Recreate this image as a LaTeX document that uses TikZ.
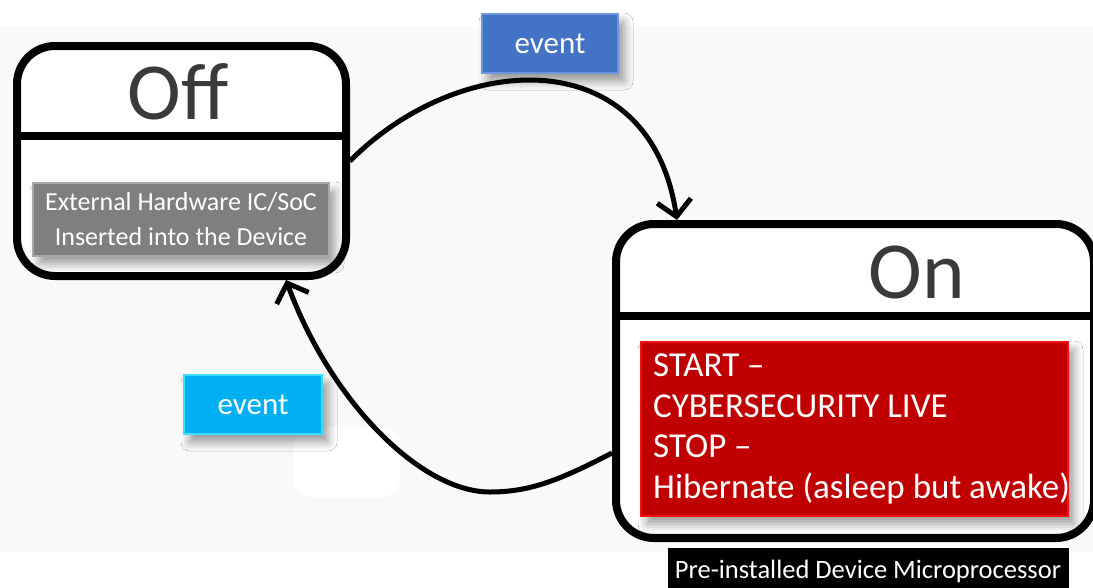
\documentclass[tikz,border=0pt]{standalone}
\usepackage{fontspec}
\setmainfont{Carlito}
\usetikzlibrary{arrows.meta,shadows.blur,calc}

\definecolor{pagegray}{HTML}{F9F9F9}
\definecolor{titlegray}{HTML}{3A3A3A}
\definecolor{greyface}{HTML}{7F7F7F}
\definecolor{greyedge}{HTML}{A8A8A8}
\definecolor{redface}{HTML}{C00000}
\definecolor{rededge}{HTML}{F01010}
\definecolor{blueface}{HTML}{4472C4}
\definecolor{blueedge}{HTML}{6D95DD}
\definecolor{cyanface}{HTML}{00B0F0}
\definecolor{cyanedge}{HTML}{3ADFFF}

\tikzset{
  statebox/.style={draw=black, line width=8pt, rounded corners=38pt, fill=white},
  statetitle/.style={text=titlegray, font=\fontsize{81}{90}\selectfont},
  bevelbox/.style={line width=2.5pt, inner sep=0pt,
    blur shadow={shadow xshift=6pt, shadow yshift=-8pt, shadow opacity=40, shadow blur radius=9pt}},
  greybox/.style={bevelbox, fill=greyface, draw=greyedge, text=white,
    font=\fontsize{26}{35}\selectfont, align=center},
  redbox/.style={bevelbox, fill=redface, draw=rededge},
  redtext/.style={text=white, inner sep=0pt, align=left,
    font=\fontsize{35}{40.5}\selectfont},
  eventbox/.style={bevelbox, text=white, font=\fontsize{31}{34}\selectfont},
  blackbox/.style={fill=black, draw=white, line width=1pt, text=white, inner sep=0pt,
    font=\fontsize{26.5}{30}\selectfont},
  transition/.style={draw=black, line width=5pt,
    -{Straight Barb[length=16pt,width=34pt]}},
}

\begin{document}
\begin{tikzpicture}[x=1pt, y=-1pt]
  % page and backdrop
  \fill[white] (0,0) rectangle (1093,587);
  \fill[pagegray] (0,27) rectangle (1093,552);
  \useasboundingbox (0,0) rectangle (1093,587);
  \fill[white, rounded corners=18pt] (293,427) rectangle (400,497);

  % Off state
  \node[statebox, minimum width=329pt, minimum height=230pt] (off) at (181.5,161) {};
  \draw[line width=8pt] (off.west |- 0,136) -- (off.east |- 0,136);
  \node[statetitle] (offtitle) at (178,92) {Off};
  \node[greybox, minimum width=296pt, minimum height=73pt] (ext) at (181,219.5)
    {External Hardware IC/SoC\\Inserted into the Device};

  % On state
  \node[statebox, minimum width=478pt, minimum height=314pt] (on) at (855,381) {};
  \draw[line width=8pt] (on.west |- 0,316) -- (on.east |- 0,316);
  \node[statetitle] (ontitle) at (917,272) {On};
  \node[redbox, minimum width=427pt, minimum height=174pt] (live) at (854.5,429) {};
  \node[redtext, anchor=west] (livetext) at (653,429)
    {START –\\CYBERSECURITY LIVE\\STOP –\\Hibernate (asleep but awake)};

  % processor label
  \node[blackbox, minimum width=402pt, minimum height=48pt] (cpu) at (868,571)
    {Pre-installed Device Microprocessor};

  % transitions
  \draw[transition] (off.east) .. controls (460,50) and (650,40) .. ([xshift=65pt]on.north west);
  \coordinate (dip) at (490,492);
  \draw[transition] ([yshift=-72pt]on.west) .. controls (560,480) and (530,492) .. (dip)
    .. controls (420,492) and (330,400) .. ([xshift=273pt]off.south west);

  % event labels
  \node[eventbox, fill=blueface, draw=blueedge, minimum width=136pt, minimum height=59pt] (ev1) at (550,43.5) {event};
  \node[eventbox, fill=cyanface, draw=cyanedge, minimum width=138pt, minimum height=59pt] (ev2) at (253,404.5) {event};
\end{tikzpicture}
\end{document}
